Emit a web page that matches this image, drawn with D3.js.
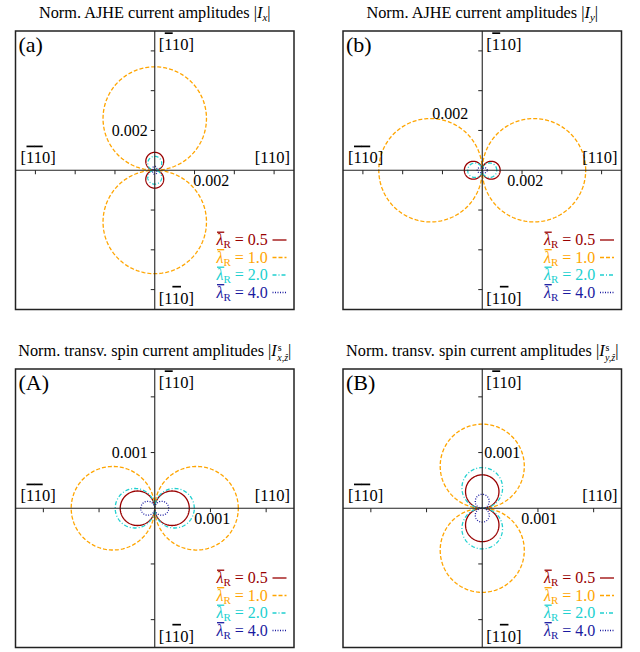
<!DOCTYPE html>
<html><head><meta charset="utf-8">
<script src="https://cdn.jsdelivr.net/npm/d3@7"></script>
<style>body{margin:0;background:#fff}svg{display:block}</style>
</head><body>
<script>
// ---- data ----
const lambdaR = [0.5, 1.0, 2.0, 4.0];
const lambdaLabels = ["0.5", "1.0", "2.0", "4.0"];
// lobe amplitudes (diameter of each circular lobe), per panel
const ampIx  = [0.0009, 0.0052, 0.0007, 0.0002];    // (a) lobes along [-110]
const ampIy  = [0.0009, 0.0052, 0.00073, 0.00025];  // (b) lobes along [110]
const ampIsx = [0.00062, 0.0015, 0.00071, 0.00025]; // (A) lobes along [110]
const ampIsy = [0.0006, 0.00151, 0.00073, 0.00025]; // (B) lobes along [-110]
const ticksBig = [-0.006, -0.004, -0.002, 0.002, 0.004, 0.006];
const ticksSmall = [-0.002, -0.001, 0.001, 0.002];
const tickLabelBig = 0.002, tickLabelSmall = 0.001;
const dirLabels = {top: "[110]", left: "[110]", right: "[110]", bottom: "[110]"};
const dirBars = {top: [1], left: [1, 2], right: [], bottom: [2]};

const colors = ["#990000", "#ffa500", "#20d0d0", "#1a1aa0"];
const dashes = [null, "4,2", "4,2,1,2", "1,1.5"];
const FONT = "'Liberation Serif', 'Times New Roman', 'DejaVu Serif', serif";

const svg = d3.select("body").append("svg").attr("width", 640).attr("height", 652)
  .attr("font-family", FONT);
const S = 278.5;

// label placement (pixel offsets from the origin) per panel
const panels = [
  {label: "(a)", left: 15.5, top: 31, max: 0.007, amps: ampIx, axis: "y", ticks: ticksBig, tl: tickLabelBig, fmt: "0.002",
   xl: {dx: 56.5, dy: 16}, yl: {dx: -7, dy: -40, anchor: "end"}, title: "x", spin: false},
  {label: "(b)", left: 343, top: 31, max: 0.007, amps: ampIy, axis: "x", ticks: ticksBig, tl: tickLabelBig, fmt: "0.002",
   xl: {dx: 43, dy: 16}, yl: {dx: -14, dy: -57, anchor: "end"}, title: "y", spin: false},
  {label: "(A)", left: 15.5, top: 369, max: 0.0025, amps: ampIsx, axis: "x", ticks: ticksSmall, tl: tickLabelSmall, fmt: "0.001",
   xl: {dx: 57.5, dy: 16}, yl: {dx: -7, dy: -56, anchor: "end"}, title: "x", spin: true},
  {label: "(B)", left: 343, top: 369, max: 0.0025, amps: ampIsy, axis: "y", ticks: ticksSmall, tl: tickLabelSmall, fmt: "0.001",
   xl: {dx: 57, dy: 16}, yl: {dx: 2, dy: -56, anchor: "start"}, title: "y", spin: true}
];

function overbars(textSel, idxs, color, fs, lift, w) {
  const node = textSel.node();
  const x0 = +textSel.attr("x");
  const anchor = textSel.attr("text-anchor");
  const total = node.getComputedTextLength();
  const start = anchor === "end" ? x0 - total : x0;
  idxs.forEach(i => {
    const a = start + node.getSubStringLength(0, i);
    const b = a + node.getSubStringLength(i, 1);
    const by = +textSel.attr("y") - lift * fs;
    d3.select(node.parentNode).append("line")
      .attr("x1", a + 0.5).attr("x2", b + 0.8)
      .attr("y1", by).attr("y2", by)
      .attr("stroke", color).attr("stroke-width", w || 1.7);
  });
}

const angles = d3.range(0, 361, 1);

panels.forEach(p => {
  const g = svg.append("g").attr("transform", `translate(${p.left},${p.top})`);
  const x = d3.scaleLinear().domain([-p.max, p.max]).range([0, S]);
  const y = d3.scaleLinear().domain([-p.max, p.max]).range([S, 0]);
  const x0 = x(0), y0 = y(0);

  // title
  const t = svg.append("text").attr("x", p.left + S / 2).attr("y", p.top - 13)
    .attr("text-anchor", "middle").attr("font-size", 16.3);
  if (!p.spin) {
    t.append("tspan").text("Norm. AJHE current amplitudes |");
    t.append("tspan").attr("font-style", "italic").text("I");
    t.append("tspan").attr("font-style", "italic").attr("font-size", 11).attr("dy", 3).text(p.title);
    t.append("tspan").attr("dy", -3).text("|");
  } else {
    t.append("tspan").text("Norm. transv. spin current amplitudes |");
    t.append("tspan").attr("font-style", "italic").text("I");
    t.append("tspan").attr("font-size", 10).attr("dy", -5).attr("dx", 1).text("s");
    t.append("tspan").attr("font-style", "italic").attr("font-size", 10).attr("dy", 9.5).attr("dx", -4.5).text(p.title + ",ẑ");
    t.append("tspan").attr("dy", -4.5).text("|");
  }

  // curves
  const line = d3.line().x(d => x(d[0])).y(d => y(d[1]));
  p.amps.forEach((A, k) => {
    const pts = angles.map(a => {
      const r = a * Math.PI / 180;
      const rad = A * Math.abs(p.axis === "y" ? Math.sin(r) : Math.cos(r));
      return [rad * Math.cos(r), rad * Math.sin(r)];
    });
    g.append("path").attr("d", line(pts)).attr("fill", "none")
      .attr("stroke", colors[k]).attr("stroke-width", 1.3)
      .attr("stroke-dasharray", dashes[k]);
  });

  // axes
  g.append("line").attr("x1", 0).attr("x2", S).attr("y1", y0).attr("y2", y0).attr("stroke", "#222").attr("stroke-width", 1.1);
  g.append("line").attr("y1", 0).attr("y2", S).attr("x1", x0).attr("x2", x0).attr("stroke", "#222").attr("stroke-width", 1.1);
  p.ticks.forEach(v => {
    g.append("line").attr("x1", x(v)).attr("x2", x(v)).attr("y1", y0).attr("y2", y0 + 4).attr("stroke", "#222");
    g.append("line").attr("y1", y(v)).attr("y2", y(v)).attr("x1", x0 - 4).attr("x2", x0).attr("stroke", "#222");
  });
  g.append("text").attr("x", x0 + p.yl.dx).attr("y", y0 + p.yl.dy + 5.5).attr("text-anchor", p.yl.anchor)
    .attr("font-size", 16).text(p.fmt);
  g.append("text").attr("x", x0 + p.xl.dx).attr("y", y0 + p.xl.dy).attr("text-anchor", "middle")
    .attr("font-size", 16).text(p.fmt);

  // box
  g.append("rect").attr("x", 0).attr("y", 0).attr("width", S).attr("height", S)
    .attr("fill", "none").attr("stroke", "#222").attr("stroke-width", 1.5);

  g.append("text").attr("x", 3).attr("y", 21).attr("font-size", 22).text(p.label);

  // direction labels
  const fs = 16.5;
  const tt = g.append("text").attr("x", x0 + 4).attr("y", 19).attr("font-size", fs).text(dirLabels.top);
  overbars(tt, dirBars.top, "#000", fs, 1.02);
  const tlf = g.append("text").attr("x", 5).attr("y", y0 - 7).attr("font-size", fs).text(dirLabels.left);
  overbars(tlf, dirBars.left, "#000", fs, 1.02);
  g.append("text").attr("x", S - 4).attr("y", y0 - 7).attr("text-anchor", "end").attr("font-size", fs).text(dirLabels.right);
  const tb = g.append("text").attr("x", x0 + 4).attr("y", S - 6).attr("font-size", fs).text(dirLabels.bottom);
  overbars(tb, dirBars.bottom, "#000", fs, 1.02);

  // legend
  lambdaR.forEach((lr, k) => {
    const by = 214 + k * 17.5;
    const lt = g.append("text").attr("x", 201).attr("y", by).attr("font-size", 16).attr("fill", colors[k]);
    lt.append("tspan").attr("font-style", "italic").text("λ");
    lt.append("tspan").attr("font-size", 11).attr("dy", 3).text("R");
    lt.append("tspan").attr("dy", -3).text(" = " + lambdaLabels[k]);
    overbars(lt, [0], colors[k], 16, 0.8, 1.3);
    g.append("line").attr("x1", 257).attr("x2", 271).attr("y1", by - 5).attr("y2", by - 5)
      .attr("stroke", colors[k]).attr("stroke-width", 1.3).attr("stroke-dasharray", dashes[k]);
  });
});
</script>
</body></html>
